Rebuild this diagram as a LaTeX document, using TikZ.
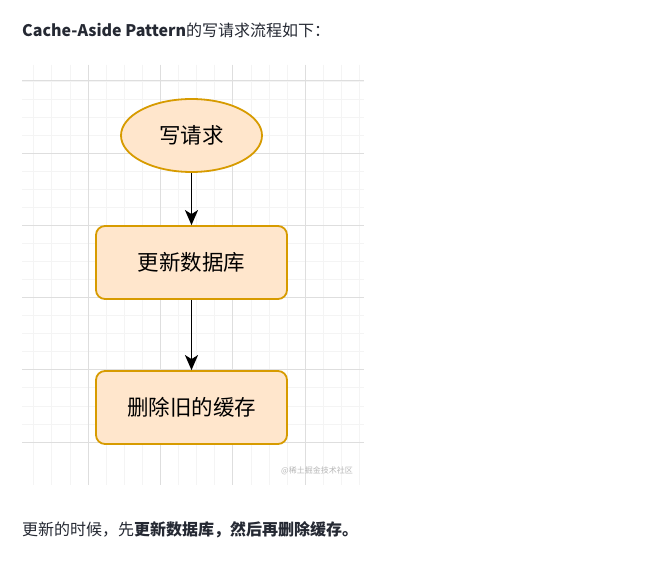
\documentclass[tikz,border=0pt]{standalone}
\usepackage{fontspec}
\setmainfont{Noto Sans CJK SC}
\usetikzlibrary{arrows.meta,shapes.geometric}
\definecolor{txt}{HTML}{252933}
\definecolor{boxfill}{HTML}{FFE6CC}
\definecolor{boxdraw}{HTML}{D79B00}
\definecolor{gmaj}{HTML}{DEDEDE}
\definecolor{gmin}{HTML}{F4F4F4}
\tikzset{
  flow/.style={fill=boxfill, draw=boxdraw, line width=1.8pt, text=black, font=\fontsize{21.5}{24}\selectfont, inner sep=0pt},
  stepbox/.style={flow, rounded corners=9pt, minimum width=191pt, minimum height=73pt},
  startell/.style={flow, ellipse, minimum width=141pt, minimum height=73pt},
  conn/.style={line width=1.8pt, black, -{Stealth[length=15pt, width=13pt, inset=4pt]}},
  para/.style={anchor=west, inner sep=0pt, text=txt, font=\fontsize{16}{19}\selectfont}
}
\begin{document}
\begin{tikzpicture}[x=1pt, y=-1pt]
\useasboundingbox (0,0) rectangle (669,569);
\fill[white] (0,0) rectangle (669,569);
% grid
\begin{scope}
\clip (22,65) rectangle (364,485);
\foreach \i in {-4,...,20} {
  \draw[gmin, line width=0.8pt] ({88+18.1*\i},65) -- ({88+18.1*\i},485);
  \draw[gmin, line width=0.8pt] (22,{81+18.05*\i}) -- (364,{81+18.05*\i});
}
\foreach \i in {-1,...,5} {
  \draw[gmaj, line width=1pt] ({88+72.4*\i},65) -- ({88+72.4*\i},485);
  \draw[gmaj, line width=1pt] (22,{81+72.2*\i}) -- (364,{81+72.2*\i});
}
\end{scope}
\node[para] (title) at (22,30) {\textbf{Cache-Aside Pattern}的写请求流程如下：};
\node[startell] (req) at (191.5,135.5) {写请求};
\node[stepbox] (db) at (191.5,262.5) {更新数据库};
\node[stepbox] (cache) at (191.5,407.5) {删除旧的缓存};
\draw[conn] (req) -- (db);
\draw[conn] (db) -- (cache);
\node[anchor=east, inner sep=0pt, text=black!28, font=\fontsize{8}{9}\selectfont] (wm) at (353,471) {@稀土掘金技术社区};
\node[para] (summary) at (22,530) {更新的时候，先\textbf{更新数据库，然后再删除缓存。}};
\end{tikzpicture}
\end{document}
